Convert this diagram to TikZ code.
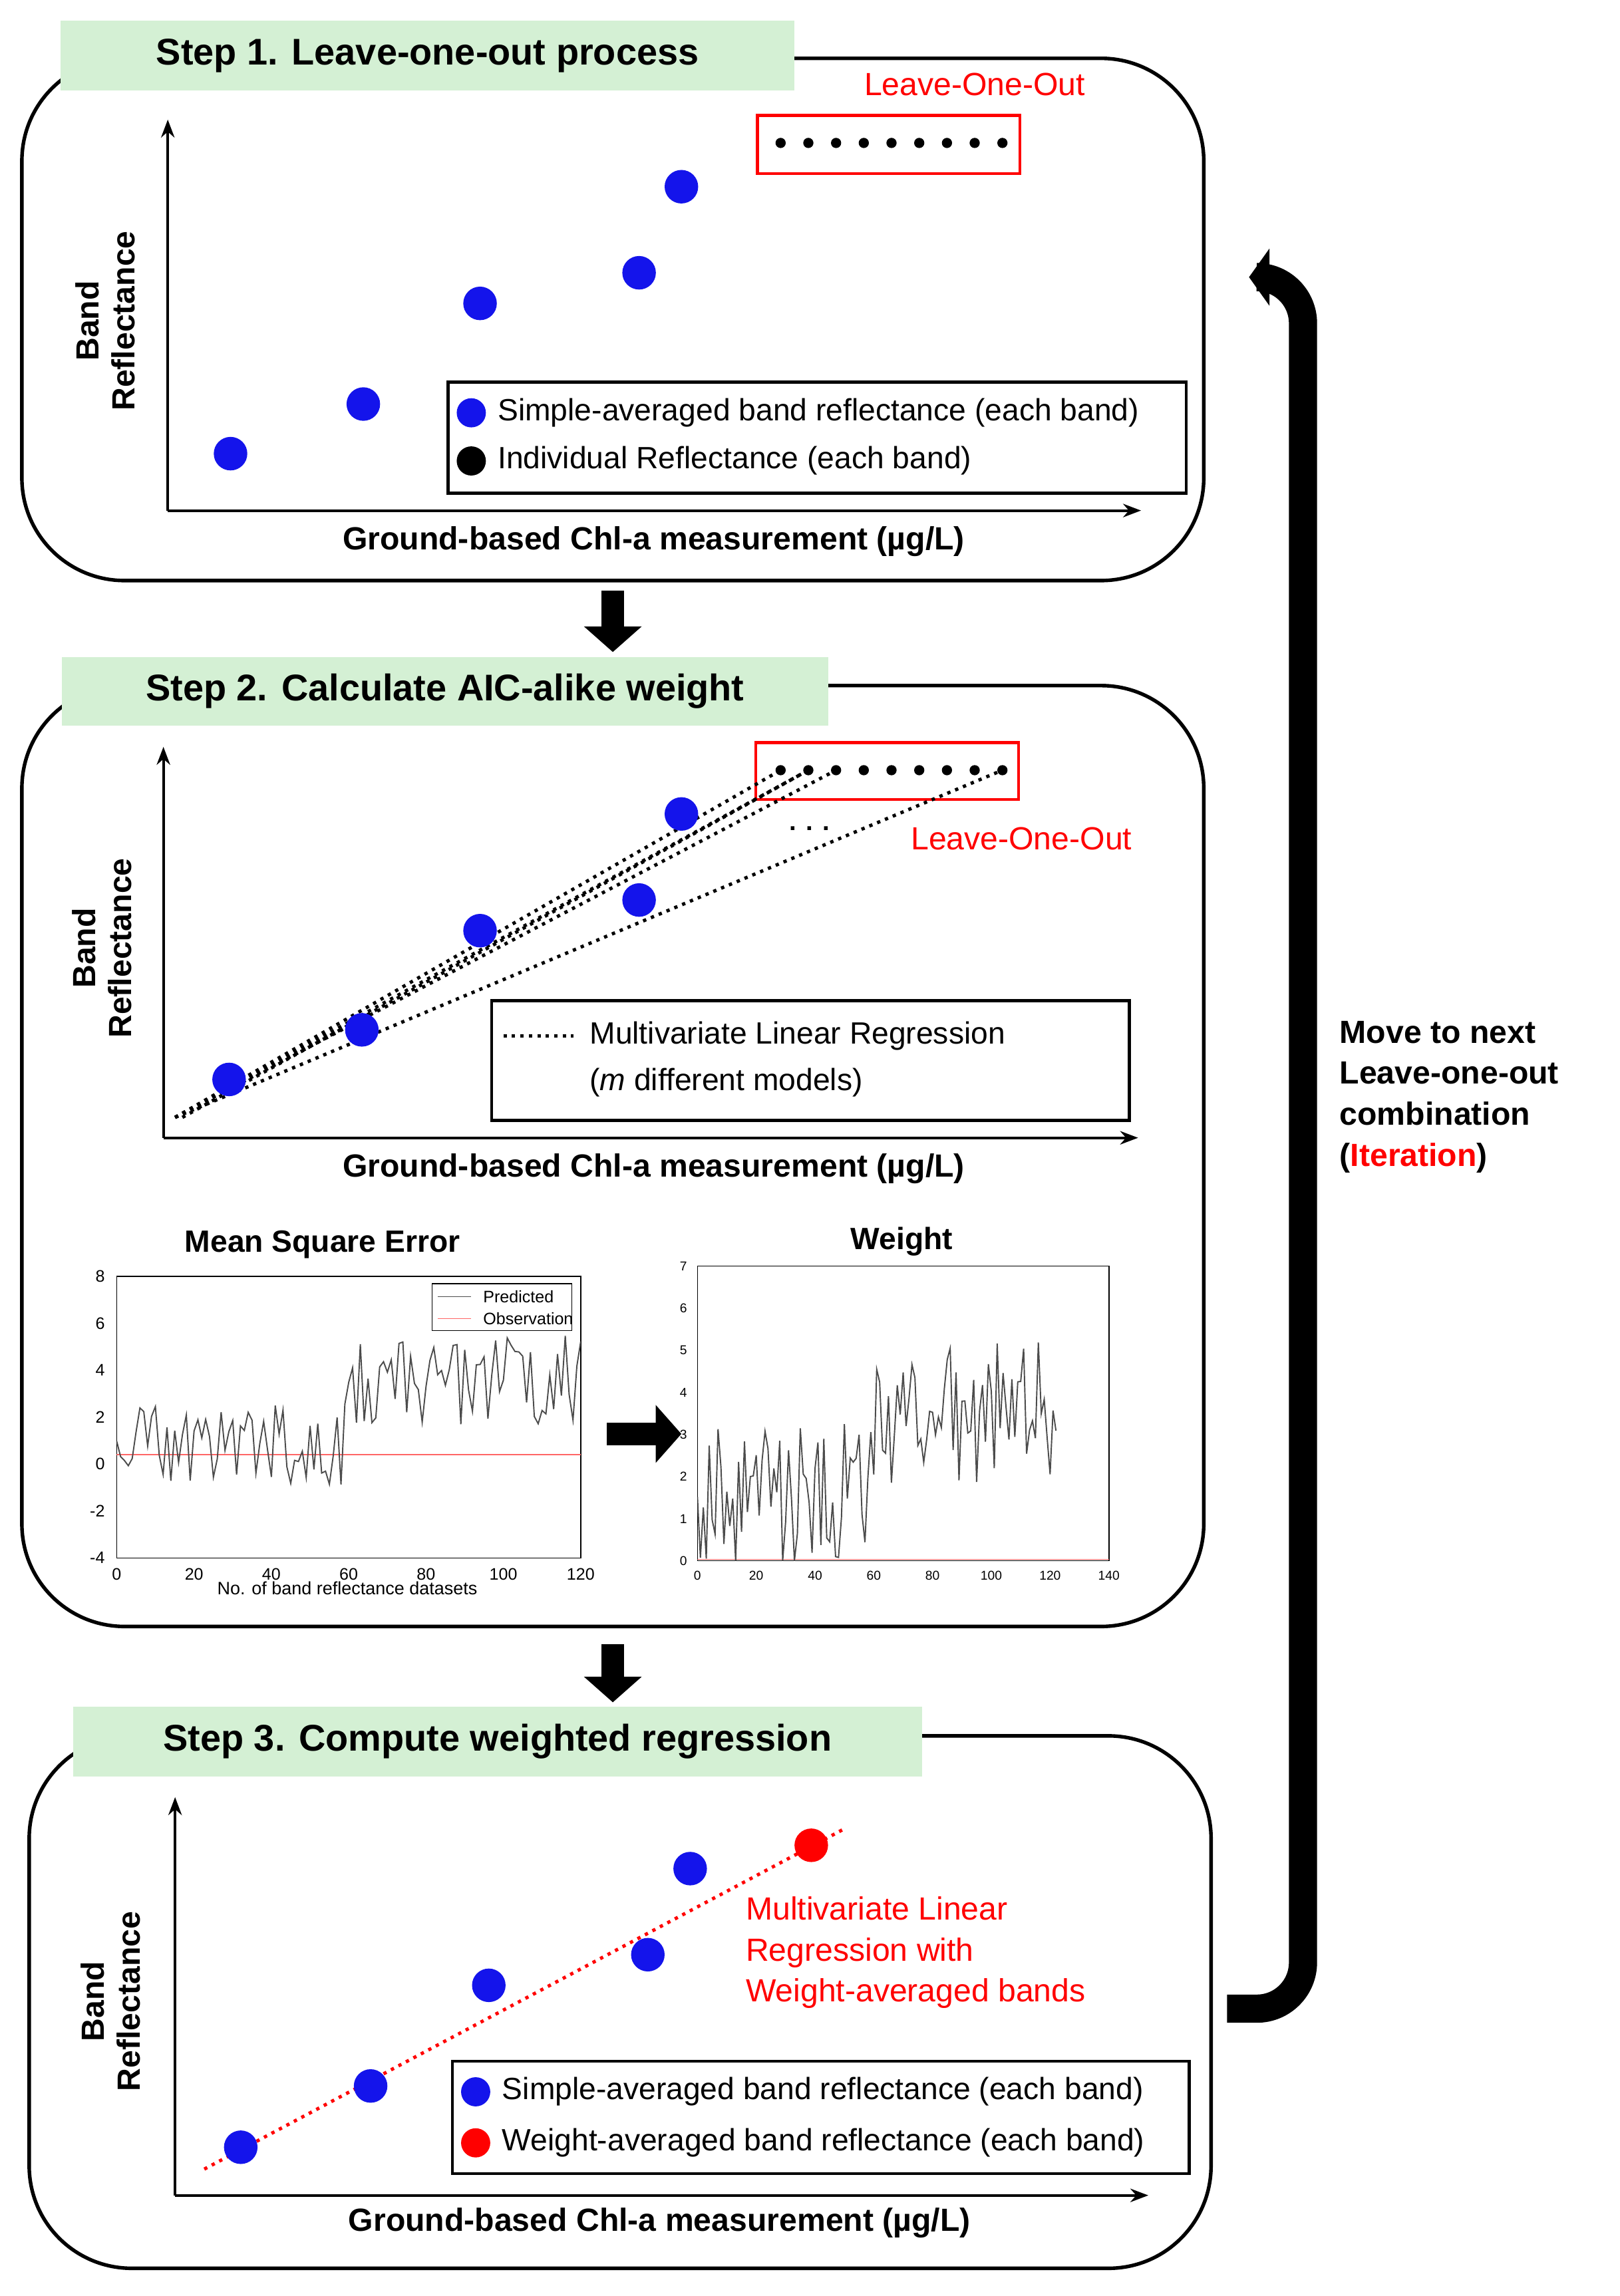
\documentclass[tikz,border=0pt]{standalone}
\usepackage{fontspec}
\setmainfont{Liberation Sans}
\usetikzlibrary{arrows.meta,shapes.geometric}
\definecolor{stepgreen}{RGB}{212,240,212}
\definecolor{dotblue}{RGB}{20,20,235}

\tikzset{
  panel/.style={draw,line width=1.4pt,rounded corners=40pt},
  steptitle/.style={fill=stepgreen,font=\fontsize{14.5}{16}\selectfont\bfseries,inner sep=0pt},
  axis/.style={line width=1pt,-{Stealth[length=7pt]}},
  bdot/.style={circle,fill=dotblue,minimum size=0.46cm,inner sep=0pt},
  rdot/.style={circle,fill=red,minimum size=0.46cm,inner sep=0pt},
  kdot/.style={circle,fill=black,minimum size=0.14cm,inner sep=0pt},
  ldot/.style={circle,fill=#1,minimum size=0.4cm,inner sep=0pt},
  axlabel/.style={font=\fontsize{12.5}{14}\selectfont\bfseries},
  legtext/.style={font=\fontsize{12}{14}\selectfont,anchor=west},
  bigarrow/.style={-{Triangle[length=10pt,width=22pt]},line width=9pt},
  tick/.style={font=\fontsize{6.5}{7}\selectfont},
}

\begin{document}
\begin{tikzpicture}[x=0.02cm,y=-0.02cm]
  \useasboundingbox (0,0) rectangle (1110,1574);

  % step 1
  \draw[panel] (15,40) rectangle (825,398);
  \node[steptitle,minimum width=10.06cm,minimum height=0.96cm] (t1) at (293,38) {Step 1. Leave-one-out process};
  \coordinate (o1) at (115,350);
  \draw[axis] (o1) -- (115,82);
  \draw[axis] (o1) -- (782,350);
  \node[axlabel,rotate=90,align=center] (y1) at (72,220) {Band\\Reflectance};
  \node[axlabel] (x1) at (448,371) {Ground-based Chl-a measurement (µg/L)};
  \node[bdot] (a1) at (158,311) {};
  \node[bdot] (a2) at (249,277) {};
  \node[bdot] (a3) at (329,208) {};
  \node[bdot] (a4) at (438,187) {};
  \node[bdot] (a5) at (467,128) {};
  \draw[red,line width=1.2pt] (519,79) rectangle (699,119);
  \foreach \i in {0,...,8} \node[kdot] (k1\i) at (535+19*\i,98) {};
  \node[red,font=\fontsize{12.5}{14}\selectfont] (loo1) at (668,58) {Leave-One-Out};
  \draw[line width=1.2pt] (307,262) rectangle (813,338);
  \node[ldot=dotblue] (lg1a) at (323,283) {};
  \node[legtext] at (335,283) {Simple-averaged band reflectance (each band)};
  \node[ldot=black] (lg1b) at (323,316) {};
  \node[legtext] at (335,316) {Individual Reflectance (each band)};

  \draw[bigarrow] (420,405) -- (420,447);

  % step 2
  \draw[panel] (15,470) rectangle (825,1115);
  \node[steptitle,minimum width=10.5cm,minimum height=0.94cm] (t2) at (305,474) {Step 2. Calculate AIC-alike weight};
  \coordinate (o2) at (112,780);
  \draw[axis] (o2) -- (112,512);
  \draw[axis] (o2) -- (780,780);
  \node[axlabel,rotate=90,align=center] (y2) at (70,650) {Band\\Reflectance};
  \node[axlabel] (x2) at (448,801) {Ground-based Chl-a measurement (µg/L)};
  \draw[red,line width=1.2pt] (518,509) rectangle (698,548);
  \foreach \i in {0,...,8} \node[kdot] (k2\i) at (535+19*\i,528) {};
  \coordinate (s2) at (120,766);
  \foreach \j in {0,1,2,8} \draw[line width=1.3pt,dotted] (s2) -- (k2\j);
  \draw[line width=1.3pt,dotted] (125,766) -- (k21);
  \node[bdot] (b1) at (157,740) {};
  \node[bdot] (b2) at (248,706) {};
  \node[bdot] (b3) at (329,638) {};
  \node[bdot] (b4) at (438,617) {};
  \node[bdot] (b5) at (467,558) {};
  \node[font=\bfseries] (dots) at (555,568) {. . .};
  \node[red,font=\fontsize{12.5}{14}\selectfont] (loo2) at (700,575) {Leave-One-Out};
  \draw[line width=1.2pt] (337,686) rectangle (774,768);
  \coordinate (m1) at (345,710);
  \coordinate (m2) at (393,710);
  \draw[line width=1.3pt,dotted] (m1) -- (m2);
  \node[legtext] at (398,710) {Multivariate Linear Regression};
  \node[legtext] at (398,742) {(\textit{m} different models)};

  % error plot
  \node[font=\fontsize{12}{14}\selectfont\bfseries] (mse) at (221,853) {Mean Square Error};
  \draw[line width=0.4pt] (80,875) rectangle (398,1068);
  \pgfmathsetseed{11}
  \begin{scope}
    \clip (80,875) rectangle (398,1068);
    \draw[red!60,line width=0.4pt] (80,997.3) -- (398,997.3);
    \draw[black!70,line width=0.5pt] plot[domain=0:120,samples=121]
      ({80+\x*2.65},{1068-((\x<59.5)*0.9+(\x>59.5)*3.6+1.9*rand+4)*16.08});
  \end{scope}
  \foreach \v in {-4,-2,...,8} \node[tick,anchor=east] at (78,{1068-(\v+4)*16.08}) {\v};
  \foreach \v in {0,20,...,120} \node[tick,anchor=north] at ({80+\v*2.65},1069) {\v};
  \node[font=\fontsize{7}{8}\selectfont] (mx) at (238,1089) {No. of band reflectance datasets};
  \draw[fill=white,line width=0.3pt] (296,880) rectangle (392,912);
  \draw[black!70] (300,889) -- (323,889);
  \node[tick,anchor=west] at (325,889) {Predicted};
  \draw[red!60] (300,904) -- (323,904);
  \node[tick,anchor=west] at (325,904) {Observation};

  \draw[bigarrow] (416,983) -- (467,983);

  % weight plot
  \node[font=\fontsize{12}{14}\selectfont\bfseries] (wt) at (618,851) {Weight};
  \draw[line width=0.4pt] (478,868) rectangle (760,1070);
  \pgfmathsetseed{5}
  \begin{scope}
    \clip (478,868) rectangle (760,1070);
    \draw[red!60,line width=0.4pt] (478,1069) -- (760,1069);
    \draw[black!70,line width=0.5pt] plot[domain=0:122,samples=123]
      ({478+\x*2.014},{1070-max(0,(\x<59.5)*1.6+(\x>59.5)*3.5+1.7*rand)*28.86});
  \end{scope}
  \foreach \v in {0,...,7} \node[tick,anchor=east,font=\fontsize{5}{6}\selectfont] at (477,{1070-\v*28.86}) {\v};
  \foreach \v in {0,20,...,140} \node[tick,anchor=north,font=\fontsize{5}{6}\selectfont] at ({478+\v*2.014},1071) {\v};

  \draw[bigarrow] (420,1127) -- (420,1167);

  % step 3
  \draw[panel] (20,1190) rectangle (830,1555);
  \node[steptitle,minimum width=11.64cm,minimum height=0.96cm] (t3) at (341,1194) {Step 3. Compute weighted regression};
  \coordinate (o3) at (120,1505);
  \draw[axis] (o3) -- (120,1232);
  \draw[axis] (o3) -- (787,1505);
  \node[axlabel,rotate=90,align=center] (y3) at (76,1372) {Band\\Reflectance};
  \node[axlabel] (x3) at (452,1524) {Ground-based Chl-a measurement (µg/L)};
  \coordinate (r0) at (140,1487);
  \coordinate (r1) at (580,1253);
  \draw[red,line width=1.3pt,dotted] (r0) -- (r1);
  \node[bdot] (c1) at (165,1472) {};
  \node[bdot] (c2) at (254,1430) {};
  \node[bdot] (c3) at (335,1361) {};
  \node[bdot] (c4) at (444,1340) {};
  \node[bdot] (c5) at (473,1281) {};
  \node[rdot] (w1) at (556,1265) {};
  \node[red,align=left,anchor=north west,font=\fontsize{12.5}{16}\selectfont] (mlr) at (505,1294)
    {Multivariate Linear\\Regression with\\Weight-averaged bands};
  \draw[line width=1.2pt] (310,1413) rectangle (815,1490);
  \node[ldot=dotblue] (lg3a) at (326,1434) {};
  \node[legtext] at (338,1434) {Simple-averaged band reflectance (each band)};
  \node[ldot=red] (lg3b) at (326,1469) {};
  \node[legtext] at (338,1469) {Weight-averaged band reflectance (each band)};

  % iteration loop
  \coordinate (it0) at (841,1377);
  \coordinate (it1) at (893,1377);
  \coordinate (it2) at (893,190);
  \draw[line width=11pt,-{Triangle[length=8pt,width=22pt]},rounded corners=18pt]
    (it0) -- (it1) -- (it2) -- (856,190);
  \node[align=left,anchor=west,font=\fontsize{12.5}{16}\selectfont\bfseries] (iter) at (912,752)
    {Move to next\\Leave-one-out\\combination\\(\textcolor{red}{Iteration})};
\end{tikzpicture}
\end{document}
